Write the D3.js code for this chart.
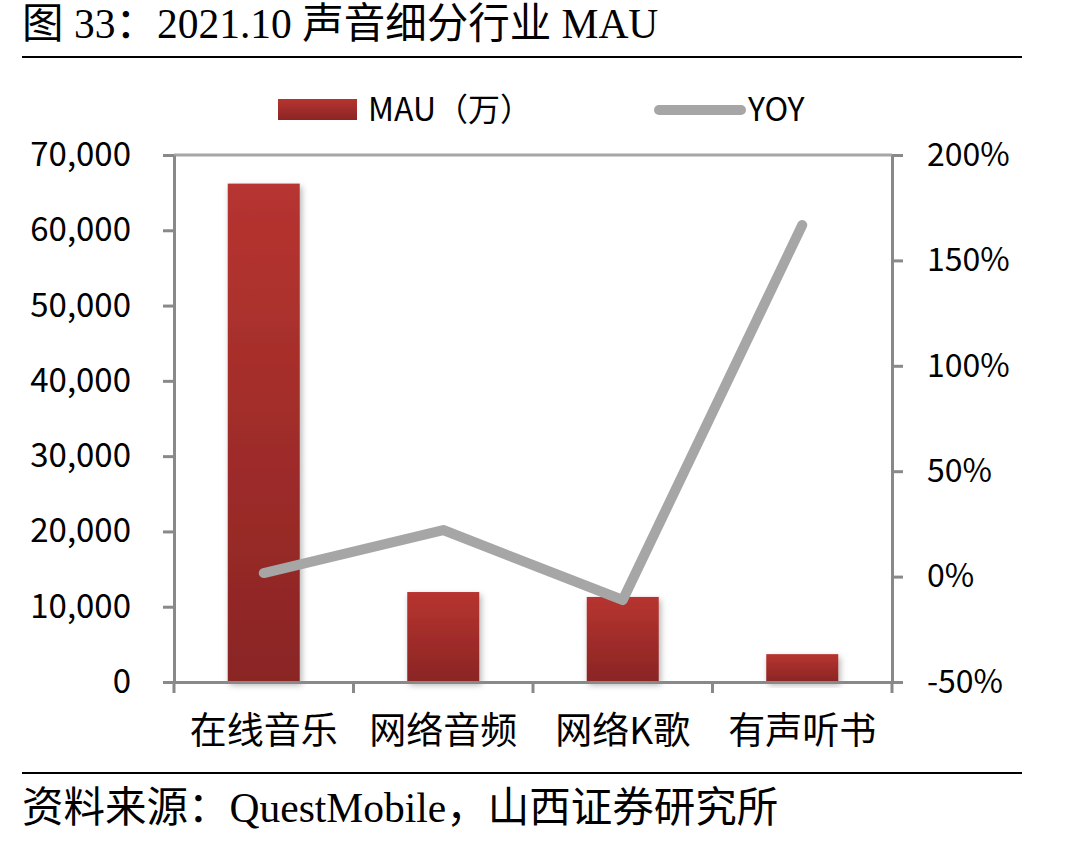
<!DOCTYPE html>
<html>
<head>
<meta charset="utf-8">
<script src="https://cdn.jsdelivr.net/npm/d3@7"></script>
<style>
  body { margin: 0; background: #fff; }
  svg { display: block; }
</style>
</head>
<body>
<div id="chart"></div>
<script>
// values
var categories = ["在线音乐", "网络音频", "网络K歌", "有声听书"];
var mau = [66200, 11950, 11300, 3700];          // 万
var yoy = [0.017, 0.221, -0.111, 1.668];
var leftTicks = [0, 10000, 20000, 30000, 40000, 50000, 60000, 70000];
var rightTicks = [-0.5, 0, 0.5, 1, 1.5, 2];

var W = 1074, H = 842;
var plotL = 174, plotR = 892, plotT = 155, plotB = 682;
var axisColor = "#898989";
var sans = "'Noto Sans CJK SC', 'Noto Sans', sans-serif";
var serif = "'Liberation Serif', 'Noto Sans CJK SC', serif";

var svg = d3.select("#chart").append("svg")
	.attr("width", W)
	.attr("height", H);

var defs = svg.append("defs");
var grad = defs.append("linearGradient")
	.attr("id", "barGrad")
	.attr("x1", 0).attr("y1", 0).attr("x2", 0).attr("y2", 1);
grad.append("stop").attr("offset", "0%").attr("stop-color", "#b73430");
grad.append("stop").attr("offset", "100%").attr("stop-color", "#8a2524");

var shadow = defs.append("filter")
	.attr("id", "shadow")
	.attr("x", "-20%").attr("y", "-10%")
	.attr("width", "150%").attr("height", "130%");
shadow.append("feDropShadow")
	.attr("dx", 2).attr("dy", 3)
	.attr("stdDeviation", 3)
	.attr("flood-color", "#000")
	.attr("flood-opacity", 0.3);

// title + rules
svg.append("text")
	.attr("x", 22).attr("y", 38)
	.attr("font-family", serif)
	.attr("font-size", 41.5)
	.text("图 33：2021.10 声音细分行业 MAU");

svg.append("line")
	.attr("x1", 22).attr("x2", 1022)
	.attr("y1", 57).attr("y2", 57)
	.attr("stroke", "#000").attr("stroke-width", 2);

svg.append("line")
	.attr("x1", 22).attr("x2", 1022)
	.attr("y1", 773).attr("y2", 773)
	.attr("stroke", "#000").attr("stroke-width", 2);

svg.append("text")
	.attr("x", 22).attr("y", 822)
	.attr("font-family", serif)
	.attr("font-size", 41.5)
	.text("资料来源：QuestMobile，山西证券研究所");

// scales
var x = d3.scaleBand()
	.domain(categories)
	.range([plotL, plotR])
	.paddingInner(0)
	.paddingOuter(0);

var yL = d3.scaleLinear()
	.domain([0, 70000])
	.range([plotB, plotT]);

var yR = d3.scaleLinear()
	.domain([-0.5, 2])
	.range([plotB, plotT]);

// top border of plot area
svg.append("line")
	.attr("x1", plotL).attr("x2", plotR)
	.attr("y1", plotT).attr("y2", plotT)
	.attr("stroke", "#a6a6a6").attr("stroke-width", 3);

// bars
var barW = 72;
svg.append("g")
	.selectAll("rect")
	.data(mau)
	.enter()
	.append("rect")
	.attr("x", function(d, i) { return x(categories[i]) + x.bandwidth() / 2 - barW / 2; })
	.attr("y", function(d) { return yL(d); })
	.attr("width", barW)
	.attr("height", function(d) { return plotB - yL(d); })
	.attr("fill", "url(#barGrad)")
	.attr("filter", "url(#shadow)");

// axes
function styleAxis(g, size) {
	g.selectAll("path.domain").attr("stroke", axisColor).attr("stroke-width", 3);
	g.selectAll(".tick line").attr("stroke", axisColor).attr("stroke-width", 3);
	g.selectAll(".tick text")
		.attr("fill", "#000")
		.attr("font-family", sans)
		.attr("font-size", size);
}

var axL = svg.append("g")
	.attr("transform", "translate(" + plotL + ",0)")
	.call(d3.axisLeft(yL)
		.tickValues(leftTicks)
		.tickSize(11)
		.tickSizeOuter(0)
		.tickPadding(32)
		.tickFormat(d3.format(",")));
styleAxis(axL, 33);

var pct = d3.format(".0%");
var axR = svg.append("g")
	.attr("transform", "translate(" + plotR + ",0)")
	.call(d3.axisRight(yR)
		.tickValues(rightTicks)
		.tickSize(11)
		.tickSizeOuter(0)
		.tickPadding(24)
		.tickFormat(function(d) { return pct(d).replace("−", "-"); }));
styleAxis(axR, 32);

var axB = svg.append("g")
	.attr("transform", "translate(0," + plotB + ")")
	.call(d3.axisBottom(x)
		.tickSize(0)
		.tickSizeOuter(0)
		.tickPadding(36));
styleAxis(axB, 37);
axB.selectAll(".tick text").attr("dy", "0.71em");

// category boundary ticks
var bounds = categories.map(function(c) { return x(c); }).concat([plotR]);
svg.append("g")
	.selectAll("line")
	.data(bounds)
	.enter()
	.append("line")
	.attr("x1", function(d) { return d; })
	.attr("x2", function(d) { return d; })
	.attr("y1", plotB)
	.attr("y2", plotB + 11)
	.attr("stroke", axisColor)
	.attr("stroke-width", 3);

// YOY line
var line = d3.line()
	.x(function(d, i) { return x(categories[i]) + x.bandwidth() / 2; })
	.y(function(d) { return yR(d); });

svg.append("path")
	.datum(yoy)
	.attr("d", line)
	.attr("fill", "none")
	.attr("stroke", "#a6a6a6")
	.attr("stroke-width", 10)
	.attr("stroke-linecap", "round")
	.attr("stroke-linejoin", "round");

// legend
var lg = svg.append("g");
lg.append("rect")
	.attr("x", 278).attr("y", 99)
	.attr("width", 79).attr("height", 21)
	.attr("fill", "url(#barGrad)");
lg.append("text")
	.attr("x", 368).attr("y", 121)
	.attr("font-family", sans)
	.attr("font-size", 32)
	.text("MAU（万）");
lg.append("line")
	.attr("x1", 659).attr("x2", 741)
	.attr("y1", 110).attr("y2", 110)
	.attr("stroke", "#a6a6a6")
	.attr("stroke-width", 10)
	.attr("stroke-linecap", "round");
lg.append("text")
	.attr("x", 748).attr("y", 121)
	.attr("font-family", sans)
	.attr("font-size", 32)
	.text("YOY");
</script>
</body>
</html>
